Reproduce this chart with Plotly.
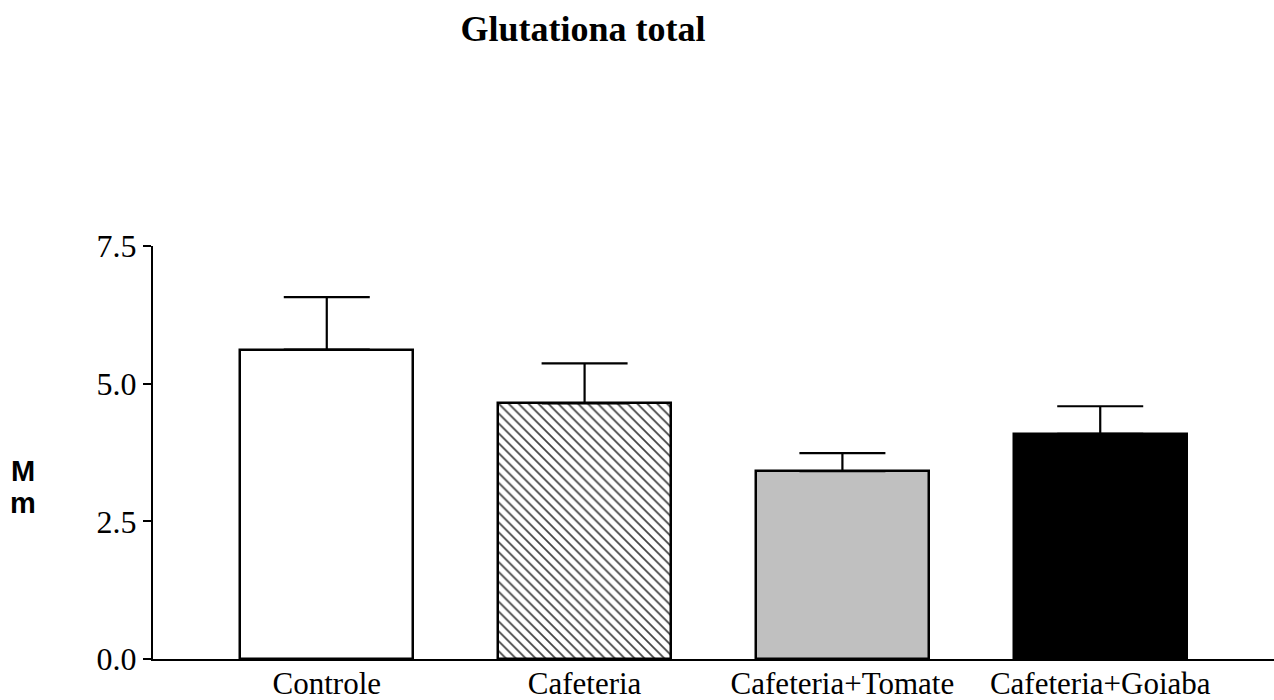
import plotly.graph_objects as go

categories = ["Controle", "Cafeteria", "Cafeteria+Tomate", "Cafeteria+Goiaba"]
means = [5.62, 4.64, 3.41, 4.09]
sem = [0.95, 0.73, 0.33, 0.50]
fills = ["white", "white", "#c0c0c0", "black"]
patterns = ["", "\\", "", ""]
y_ticks = [0, 2.5, 5.0, 7.5]
title_text = "Glutationa total"

serif = "Liberation Serif, Times New Roman, serif"
sans = "Liberation Sans, Arial, sans-serif"

fig = go.Figure()
fig.add_trace(go.Bar(
    x=list(range(len(categories))),
    y=means,
    width=0.67,
    marker=dict(
        color=fills,
        line=dict(color="black", width=2.5),
        pattern=dict(shape=patterns, fgcolor="black", bgcolor="white",
                     fgopacity=1, size=7, solidity=0.25, fillmode="overlay"),
    ),
    error_y=dict(type="data", symmetric=False, array=sem,
                 arrayminus=[0] * len(sem), color="black",
                 thickness=2.2, width=43),
    showlegend=False,
))

fig.update_layout(
    width=1274, height=700,
    margin=dict(l=153, r=0, t=246, b=41),
    paper_bgcolor="white", plot_bgcolor="white",
    bargap=0,
    title=dict(text="<b>" + title_text + "</b>", x=0.4576, xref="container",
               xanchor="center", y=0.96, yref="container", yanchor="middle",
               font=dict(family=serif, size=36, color="black")),
    xaxis=dict(
        range=[-0.674, 3.674], automargin=False,
        tickmode="array", tickvals=list(range(len(categories))),
        ticktext=categories, ticks="", showline=True, linecolor="black",
        linewidth=2, showgrid=False, zeroline=False,
        ticklabelstandoff=-4,
        tickfont=dict(family=serif, size=31, color="black"),
    ),
    yaxis=dict(
        range=[0, 7.5], automargin=False, tickmode="array", tickvals=y_ticks,
        ticktext=[f"{v:.1f}" for v in y_ticks],
        ticks="outside", ticklen=8, tickwidth=2, tickcolor="black",
        showline=True, linecolor="black", linewidth=2,
        showgrid=False, zeroline=False,
        tickfont=dict(family=serif, size=32, color="black"),
    ),
    annotations=[
        dict(text="<b>M</b>", xref="paper", yref="paper", x=0, y=0.455,
             xshift=-130, xanchor="center", yanchor="middle", showarrow=False,
             font=dict(family=sans, size=29, color="black")),
        dict(text="<b>m</b>", xref="paper", yref="paper", x=0, y=0.378,
             xshift=-130, xanchor="center", yanchor="middle", showarrow=False,
             font=dict(family=sans, size=29, color="black")),
    ],
)

fig.write_html("out.html", config={"displayModeBar": False},
               post_script="document.body.style.margin='0';document.body.style.overflow='hidden';")
